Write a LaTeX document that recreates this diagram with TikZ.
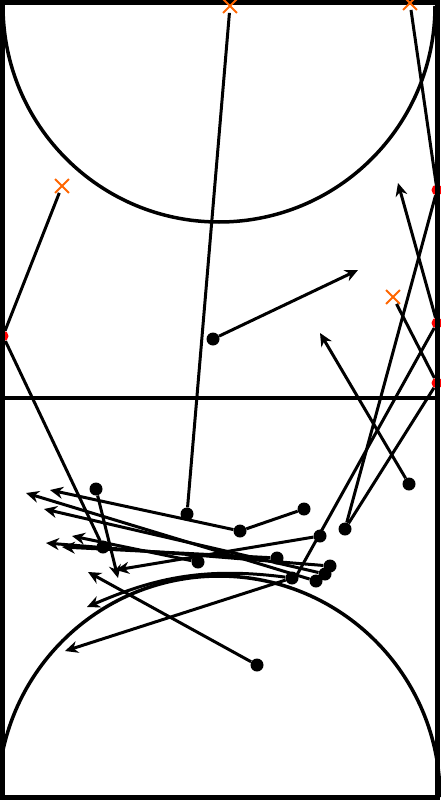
\documentclass[tikz,border=0pt]{standalone}
\usetikzlibrary{arrows.meta,shapes.misc}
\definecolor{conecol}{RGB}{255,102,0}
\begin{document}
\begin{tikzpicture}[x=1pt,y=-1pt,
  player/.style={circle,fill=black,inner sep=0pt,minimum size=13pt},
  cone/.style={cross out,draw=conecol,line width=1.8pt,inner sep=0pt,minimum size=12pt},
  redspot/.style={circle,fill=red,inner sep=0pt,minimum size=11pt},
  run/.style={line width=3pt},
  pass/.style={run,-{Stealth[length=13pt,width=12pt]}}]
  \useasboundingbox (0,0) rectangle (440,800);
  % court lines
  \draw[line width=3.5pt] (219,6) ++(180:216) arc[start angle=180,end angle=0,radius=216];
  \draw[line width=3.5pt] (219,797) ++(180:221) arc[start angle=180,end angle=360,radius=221];
  \draw[line width=3.5pt] (2,398) -- (438,398);
  % wall spots
  \node[redspot] (r1) at (437,190) {};
  \node[redspot] (r2) at (437,323) {};
  \node[redspot] (r3) at (437,383) {};
  \node[redspot] (r4) at (3,336) {};
  \draw[line width=5pt] (2.5,2.5) rectangle (437.5,797.5);
  % cones
  \node[cone] (c1) at (230,6) {};
  \node[cone] (c2) at (410,3) {};
  \node[cone] (c3) at (62,186) {};
  \node[cone] (c4) at (393,297) {};
  % players
  \node[player] (p1) at (213,339) {};
  \node[player] (p2) at (409,484) {};
  \node[player] (p3) at (96,489) {};
  \node[player] (p4) at (187,514) {};
  \node[player] (p5) at (304,509) {};
  \node[player] (p6) at (240,531) {};
  \node[player] (p7) at (320,536) {};
  \node[player] (p8) at (345,529) {};
  \node[player] (p9) at (103,547) {};
  \node[player] (p10) at (198,562) {};
  \node[player] (p11) at (277,558) {};
  \node[player] (p12) at (330,566) {};
  \node[player] (p13) at (325,574) {};
  \node[player] (p14) at (316,581) {};
  \node[player] (p15) at (292,578) {};
  \node[player] (p16) at (257,665) {};
  % arrow ends
  \coordinate (t1) at (26,493);
  \coordinate (t2) at (50,490);
  \coordinate (t3) at (44,509);
  \coordinate (t4) at (72,536);
  \coordinate (t5) at (46,543);
  \coordinate (t6) at (62,547);
  \coordinate (t7) at (116,570);
  \coordinate (t8) at (88,572);
  \coordinate (t9) at (65,651);
  \coordinate (t10) at (87,607);
  \coordinate (t11) at (118,578);
  \coordinate (t12) at (398,183);
  \coordinate (t13) at (320,333);
  \coordinate (t14) at (358,270);
  \coordinate (e1) at (293,582);
  % runs and passes
  \draw[run] (c1) -- (p4);
  \draw[run] (c2) -- (r1);
  \draw[run] (r1) -- (p8);
  \draw[pass] (r2) -- (t12);
  \draw[run] (r2) -- (e1);
  \draw[run] (c4) -- (r3);
  \draw[run] (r3) -- (p8);
  \draw[pass] (p2) -- (t13);
  \draw[pass] (p1) -- (t14);
  \draw[run] (c3) -- (r4);
  \draw[run] (r4) -- (p9);
  \draw[pass] (p3) -- (t11);
  \draw[run] (p5) -- (p6);
  \draw[pass] (p6) -- (t2);
  \draw[pass] (p14) -- (t1);
  \draw[pass] (p13) -- (t3);
  \draw[pass] (p10) -- (t4);
  \draw[pass] (p12) -- (t5);
  \draw[pass] (p11) -- (t6);
  \draw[pass] (p7) -- (t7);
  \draw[pass] (p16) -- (t8);
  \draw[pass] (p15) -- (t9);
  \draw[pass] (p15) .. controls (200,566) and (150,580) .. (t10);
\end{tikzpicture}
\end{document}
